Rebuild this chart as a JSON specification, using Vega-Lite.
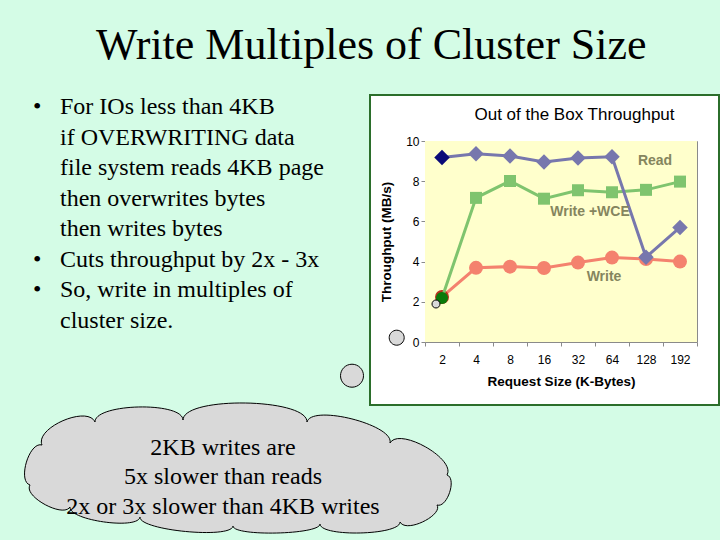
{
  "$schema": "https://vega.github.io/schema/vega-lite/v6.json",
  "background": "#d4fce6",
  "padding": {"left": 22, "top": 24, "right": 0, "bottom": 0},
  "title": {"text": "Write Multiples of Cluster Size", "font": "Liberation Serif", "fontSize": 44, "fontWeight": "normal", "color": "#000000", "anchor": "middle", "offset": 26},
  "columns": 2,
  "align": "none",
  "bounds": "flush",
  "spacing": {"row": 0, "column": -43},
  "config": {
    "view": {"stroke": null},
    "axis": {"grid": false, "domainColor": "#8a8a8a", "tickColor": "#8a8a8a", "labelFont": "Liberation Sans", "labelFontSize": 12, "labelColor": "#000000", "titleFont": "Liberation Sans", "titleFontSize": 13.5, "titleFontWeight": "bold", "titleColor": "#000000"}
  },
  "concat": [
    {
      "width": 380,
      "height": 310,
      "data": {"values": [
        {"line": 1, "col": "bullet", "t": "•"},
        {"line": 1, "col": "text", "t": "For IOs less than 4KB"},
        {"line": 2, "col": "text", "t": "if OVERWRITING data"},
        {"line": 3, "col": "text", "t": "file system reads 4KB page"},
        {"line": 4, "col": "text", "t": "then overwrites bytes"},
        {"line": 5, "col": "text", "t": "then writes bytes"},
        {"line": 6, "col": "bullet", "t": "•"},
        {"line": 6, "col": "text", "t": "Cuts throughput by 2x - 3x"},
        {"line": 7, "col": "bullet", "t": "•"},
        {"line": 7, "col": "text", "t": "So, write in multiples of"},
        {"line": 8, "col": "text", "t": "cluster size."}
      ]},
      "mark": {"type": "text", "font": "Liberation Serif", "fontSize": 24, "align": "left", "baseline": "middle", "color": "#000000"},
      "encoding": {
        "x": {"field": "col", "type": "nominal", "scale": {"type": "point", "domain": ["bullet", "text"], "range": [0, 27], "padding": 0}, "axis": null},
        "y": {"field": "line", "type": "ordinal", "scale": {"type": "point", "range": [12, 226], "padding": 0}, "axis": null},
        "text": {"field": "t"}
      }
    },
    {
      "width": 349,
      "height": 310,
      "view": {"fill": "#ffffff", "stroke": "#2b6e2b", "strokeWidth": 2},
      "title": {"text": "Out of the Box Throughput", "font": "Liberation Sans", "fontSize": 17, "fontWeight": "normal", "color": "#000000", "anchor": "middle", "dx": 30, "offset": -42, "baseline": "alphabetic"},
      "data": {"values": [
        {"series": "Read", "size": "2", "tp": 9.18},
        {"series": "Read", "size": "4", "tp": 9.37},
        {"series": "Read", "size": "8", "tp": 9.25},
        {"series": "Read", "size": "16", "tp": 8.96},
        {"series": "Read", "size": "32", "tp": 9.15},
        {"series": "Read", "size": "64", "tp": 9.22},
        {"series": "Read", "size": "128", "tp": 4.22},
        {"series": "Read", "size": "192", "tp": 5.7},
        {"series": "Write +WCE", "size": "2", "tp": 2.19},
        {"series": "Write +WCE", "size": "4", "tp": 7.17},
        {"series": "Write +WCE", "size": "8", "tp": 8.01},
        {"series": "Write +WCE", "size": "16", "tp": 7.13},
        {"series": "Write +WCE", "size": "32", "tp": 7.55},
        {"series": "Write +WCE", "size": "64", "tp": 7.45},
        {"series": "Write +WCE", "size": "128", "tp": 7.57},
        {"series": "Write +WCE", "size": "192", "tp": 7.98},
        {"series": "Write", "size": "2", "tp": 2.24},
        {"series": "Write", "size": "4", "tp": 3.69},
        {"series": "Write", "size": "8", "tp": 3.75},
        {"series": "Write", "size": "16", "tp": 3.68},
        {"series": "Write", "size": "32", "tp": 3.95},
        {"series": "Write", "size": "64", "tp": 4.2},
        {"series": "Write", "size": "128", "tp": 4.13},
        {"series": "Write", "size": "192", "tp": 4.0}
      ]},
      "resolve": {"axis": {"x": "independent", "y": "independent"}},
      "layer": [
        {
          "transform": [{"filter": "datum.series === 'Read'"}],
          "mark": {"type": "rect", "fill": "#ffffcc"},
          "encoding": {
            "x": {"field": "size", "type": "ordinal",
              "scale": {"type": "band", "domain": ["2", "4", "8", "16", "32", "64", "128", "192"], "range": [55, 327], "paddingInner": 0, "paddingOuter": 0},
              "axis": {"orient": "bottom", "offset": -63, "tickBand": "extent", "tickSize": 4, "labelPadding": 8, "labelDx": 3, "labelAngle": 0, "title": "Request Size (K-Bytes)", "titlePadding": 9}},
            "y": {"datum": 0, "type": "quantitative",
              "scale": {"domain": [0, 10], "range": [247, 46], "nice": false},
              "axis": {"orient": "left", "offset": -55, "values": [0, 2, 4, 6, 8, 10], "tickSize": 4, "labelPadding": 2, "title": "Throughput (MB/s)", "titlePadding": 12}},
            "y2": {"datum": 10}
          }
        },
        {
          "transform": [{"filter": "datum.series === 'Write'"}],
          "mark": {"type": "line", "color": "#f4826e", "strokeWidth": 3},
          "encoding": {
            "x": {"field": "size", "type": "ordinal", "axis": {"orient": "top", "offset": -46, "ticks": false, "labels": false, "title": null}},
            "y": {"field": "tp", "type": "quantitative", "axis": {"orient": "right", "offset": -22, "ticks": false, "labels": false, "title": null}}
          }
        },
        {
          "transform": [{"filter": "datum.series === 'Write'"}],
          "mark": {"type": "point", "filled": true, "shape": "circle", "size": 196, "opacity": 1},
          "encoding": {
            "x": {"field": "size", "type": "ordinal", "axis": null},
            "y": {"field": "tp", "type": "quantitative", "axis": null},
            "color": {"condition": {"test": "datum.size === '2'", "value": "#b8321e"}, "value": "#f4826e"}
          }
        },
        {
          "transform": [{"filter": "datum.series === 'Write +WCE'"}],
          "mark": {"type": "line", "color": "#7fc46e", "strokeWidth": 3},
          "encoding": {
            "x": {"field": "size", "type": "ordinal", "axis": null},
            "y": {"field": "tp", "type": "quantitative", "axis": null}
          }
        },
        {
          "transform": [{"filter": "datum.series === 'Write +WCE'"}],
          "mark": {"type": "point", "filled": true, "size": 144, "opacity": 1},
          "encoding": {
            "x": {"field": "size", "type": "ordinal", "axis": null},
            "y": {"field": "tp", "type": "quantitative", "axis": null},
            "shape": {"condition": {"test": "datum.size === '2'", "value": "circle"}, "value": "square"},
            "color": {"condition": {"test": "datum.size === '2'", "value": "#0a7a0a"}, "value": "#7fc46e"}
          }
        },
        {
          "transform": [{"filter": "datum.series === 'Read'"}],
          "mark": {"type": "line", "color": "#7777ad", "strokeWidth": 3},
          "encoding": {
            "x": {"field": "size", "type": "ordinal", "axis": null},
            "y": {"field": "tp", "type": "quantitative", "axis": null}
          }
        },
        {
          "transform": [{"filter": "datum.series === 'Read'"}],
          "mark": {"type": "point", "filled": true, "shape": "diamond", "size": 240, "opacity": 1},
          "encoding": {
            "x": {"field": "size", "type": "ordinal", "axis": null},
            "y": {"field": "tp", "type": "quantitative", "axis": null},
            "color": {"condition": {"test": "datum.size === '2'", "value": "#0a0a78"}, "value": "#7777ad"}
          }
        },
        {
          "data": {"values": [{"label": "Read", "size": "128", "tp": 9.0}]},
          "mark": {"type": "text", "font": "Liberation Sans", "fontSize": 14, "fontWeight": "bold", "color": "#85855e", "baseline": "middle", "dx": 9},
          "encoding": {
            "x": {"field": "size", "type": "ordinal", "axis": null},
            "y": {"field": "tp", "type": "quantitative", "axis": null},
            "text": {"field": "label"}
          }
        },
        {
          "data": {"values": [{"label": "Write +WCE", "size": "32", "tp": 6.45}]},
          "mark": {"type": "text", "font": "Liberation Sans", "fontSize": 14, "fontWeight": "bold", "color": "#85855e", "baseline": "middle", "dx": 12},
          "encoding": {
            "x": {"field": "size", "type": "ordinal", "axis": null},
            "y": {"field": "tp", "type": "quantitative", "axis": null},
            "text": {"field": "label"}
          }
        },
        {
          "data": {"values": [{"label": "Write", "size": "64", "tp": 3.22}]},
          "mark": {"type": "text", "font": "Liberation Sans", "fontSize": 14, "fontWeight": "bold", "color": "#85855e", "baseline": "middle", "dx": -8},
          "encoding": {
            "x": {"field": "size", "type": "ordinal", "axis": null},
            "y": {"field": "tp", "type": "quantitative", "axis": null},
            "text": {"field": "label"}
          }
        }
      ]
    },
    {
      "width": 380,
      "height": 144,
      "data": {"values": [{"note": "2KB writes are\n5x slower than reads\n2x or 3x slower than 4KB writes"}]},
      "layer": [
        {
          "mark": {"type": "point", "shape": "M -0.9415 0.0390 C -1.0039 0.0205 -0.9454 -0.1746 -0.8829 -0.1561 C -0.9190 -0.2395 -0.6605 -0.3517 -0.6244 -0.2683 C -0.6263 -0.3595 -0.1971 -0.3693 -0.1951 -0.2780 C -0.1932 -0.3951 0.4117 -0.3854 0.4098 -0.2683 C 0.4322 -0.3566 0.8371 -0.2541 0.8146 -0.1659 C 0.8590 -0.2454 1.1371 -0.0893 1.0927 -0.0098 C 1.1420 0.0068 1.0932 0.1532 1.0439 0.1366 C 1.0746 0.1854 0.8941 0.2766 0.8634 0.2195 C 0.8659 0.2844 0.4756 0.2941 0.4732 0.2293 C 0.4741 0.2815 0.0498 0.2912 0.0488 0.2390 C 0.0420 0.3039 -0.4117 0.2600 -0.4049 0.1951 C -0.4141 0.2595 -0.7556 0.2107 -0.7463 0.1463 C -0.7790 0.2015 -0.9761 0.0941 -0.9415 0.0390 Z M 0.6854 -0.4941 C 0.6854 -0.4631 0.6603 -0.4380 0.6293 -0.4380 C 0.5983 -0.4380 0.5732 -0.4631 0.5732 -0.4941 C 0.5732 -0.5251 0.5983 -0.5502 0.6293 -0.5502 C 0.6603 -0.5502 0.6854 -0.5251 0.6854 -0.4941 Z M 0.8839 -0.6795 C 0.8839 -0.6593 0.8675 -0.6429 0.8473 -0.6429 C 0.8271 -0.6429 0.8107 -0.6593 0.8107 -0.6795 C 0.8107 -0.6997 0.8271 -0.7161 0.8473 -0.7161 C 0.8675 -0.7161 0.8839 -0.6997 0.8839 -0.6795 Z M 1.0585 -0.8439 C 1.0585 -0.8331 1.0498 -0.8244 1.0390 -0.8244 C 1.0282 -0.8244 1.0195 -0.8331 1.0195 -0.8439 C 1.0195 -0.8547 1.0282 -0.8634 1.0390 -0.8634 C 1.0498 -0.8634 1.0585 -0.8547 1.0585 -0.8439 Z", "size": 168100, "filled": true, "fill": "#d9d9d9", "stroke": "#000000", "strokeWidth": 1, "opacity": 1},
          "encoding": {}
        },
        {
          "mark": {"type": "text", "font": "Liberation Serif", "fontSize": 24, "lineBreak": "\n", "lineHeight": 29.5, "align": "center", "baseline": "middle", "dy": -29.5, "color": "#000000"},
          "encoding": {"text": {"field": "note"}}
        }
      ]
    }
  ]
}
